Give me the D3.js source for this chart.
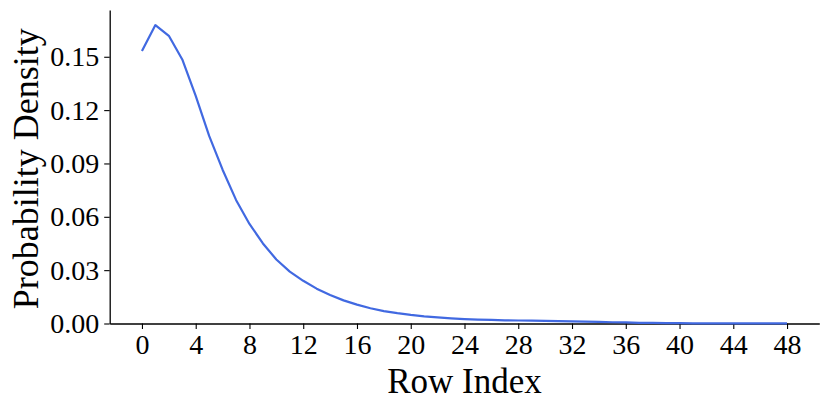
<!DOCTYPE html>
<html>
<head>
<meta charset="utf-8">
<script src="https://cdn.jsdelivr.net/npm/d3@7"></script>
<style>
  html, body { margin: 0; padding: 0; background: #fff; }
  svg text { font-family: "Liberation Serif", "Times New Roman", serif; fill: #000; }
</style>
</head>
<body>
<div id="my_dataviz"></div>
<script>
// ---- data
var rowIndex = d3.range(0, 49);
var density = [
  0.1533, 0.1678, 0.1618, 0.1485, 0.1280, 0.1055, 0.0865, 0.0695, 0.0560, 0.0450,
  0.0360, 0.0292, 0.0240, 0.0196, 0.0160, 0.0130, 0.0106, 0.0086, 0.0070, 0.0058,
  0.0048, 0.0040, 0.0034, 0.0029, 0.0025, 0.0022, 0.0020, 0.0018, 0.0017, 0.0016,
  0.0015, 0.0013, 0.0012, 0.0010, 0.0009, 0.0007, 0.0006, 0.0004, 0.0003, 0.0002,
  0.0002, 0.0001, 0.0001, 0.0001, 0.0001, 0.00005, 0.00005, 0.00003, 0.00002
];
var xTicks = d3.range(0, 49, 4);
var yTicks = [0, 0.03, 0.06, 0.09, 0.12, 0.15];

// ---- plotting initialisation
var W = 830, H = 409;
var margin = {top: 10, right: 10.7, bottom: 85.5, left: 109.7};
var width = W - margin.left - margin.right;
var height = H - margin.top - margin.bottom;

var svg = d3.select("div#my_dataviz")
    .append("svg")
      .attr("width", W)
      .attr("height", H)
    .append("g")
      .attr("transform", "translate(" + margin.left + "," + margin.top + ")");

const xScale = d3.scaleLinear().domain([-2.4, 50.4]).range([0, width]);
const yScale = d3.scaleLinear().domain([0, 0.1763]).range([height, 0]);

// x axis
var xAxis = svg.append("g")
    .attr("transform", "translate(0," + height + ")")
    .call(d3.axisBottom(xScale).tickValues(xTicks).tickSize(5.5).tickPadding(5).tickSizeOuter(0));

// y axis
var yAxis = svg.append("g")
    .call(d3.axisLeft(yScale).tickValues(yTicks).tickFormat(d3.format(".2f")).tickSize(5.5).tickPadding(5).tickSizeOuter(0));

[xAxis, yAxis].forEach(function(a) {
  a.select(".domain").attr("stroke", "#000").attr("stroke-width", 1.3);
  a.selectAll(".tick line").attr("stroke", "#000").attr("stroke-width", 1.1);
  a.selectAll(".tick text").style("font-size", "28px").attr("fill", "#000");
});

// line
const line = d3.line()
    .x(function(d, i) { return xScale(rowIndex[i]); })
    .y(function(d) { return yScale(d); });

svg.append("path")
    .datum(density)
    .attr("fill", "none")
    .attr("stroke", "#4169E1")
    .attr("stroke-width", 2.2)
    .attr("stroke-linejoin", "round")
    .attr("d", line);

// axis labels
svg.append("text")
    .attr("x", xScale(24))
    .attr("y", height + 69)
    .attr("text-anchor", "middle")
    .style("font-size", "35px")
    .text("Row Index");

svg.append("text")
    .attr("transform", "translate(" + (-72) + "," + (height / 2 + 2) + ") rotate(-90)")
    .attr("text-anchor", "middle")
    .style("font-size", "36px")
    .text("Probability Density");
</script>
</body>
</html>
